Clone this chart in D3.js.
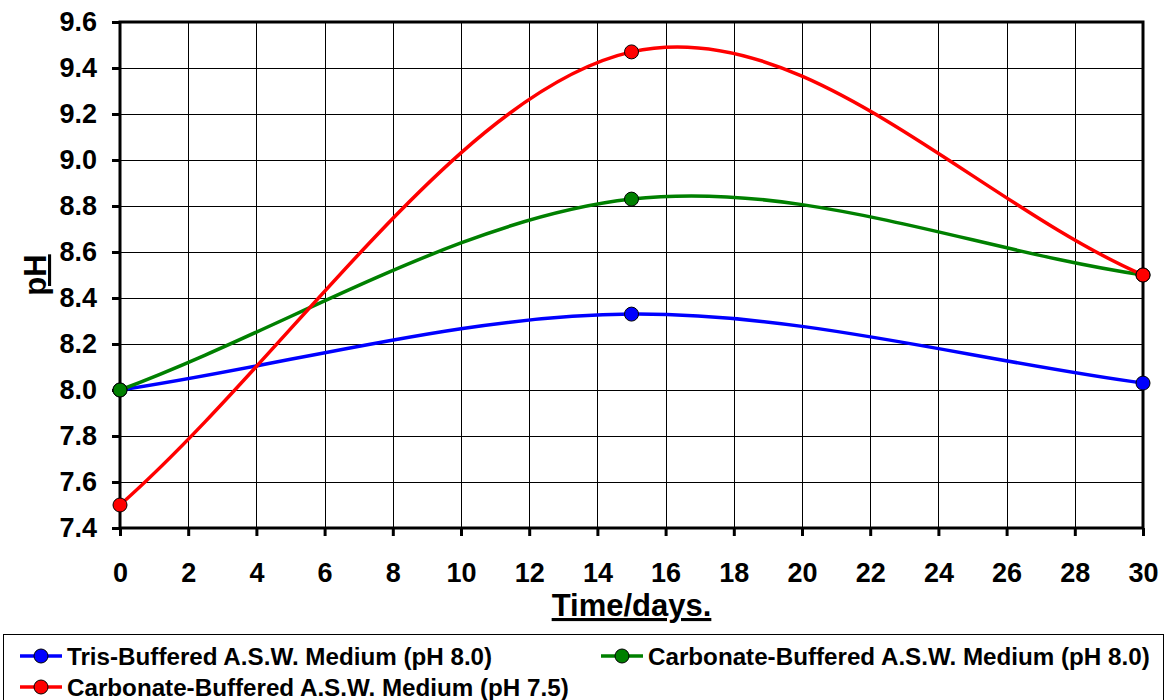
<!DOCTYPE html>
<html>
<head>
<meta charset="utf-8">
<script src="https://cdn.jsdelivr.net/npm/d3@7"></script>
<style>
  html, body { margin: 0; padding: 0; background: #fff; }
  text { font-family: "Liberation Sans", Arial, sans-serif; font-weight: bold; fill: #000; }
</style>
</head>
<body>
<svg id="chart" width="1168" height="700"></svg>
<script>
// Sampling days and measured pH for each medium
const days = [0, 15, 30];
const trisPH = [8.0, 8.33, 8.03];
const carb80PH = [8.0, 8.83, 8.5];
const carb75PH = [7.5, 9.47, 8.5];

const xTicks = d3.range(0, 31, 2);
const yTicks = [7.4, 7.6, 7.8, 8.0, 8.2, 8.4, 8.6, 8.8, 9.0, 9.2, 9.4, 9.6];

const seriesNames = [
  "Tris-Buffered A.S.W. Medium (pH 8.0)",
  "Carbonate-Buffered A.S.W. Medium (pH 8.0)",
  "Carbonate-Buffered A.S.W. Medium (pH 7.5)"
];
const seriesColors = ["#0000ff", "#008000", "#ff0000"];
const seriesValues = [trisPH, carb80PH, carb75PH];

const series = seriesNames.map((name, i) => ({
  name,
  color: seriesColors[i],
  points: days.map((d, j) => ({ x: d, y: seriesValues[i][j] }))
}));

// Smooth-line curve: interior tangents (P[i+1]-P[i-1])/6, end handles a third of the end chord
function curveSmooth(context) {
  let pts;
  return {
    areaStart() {}, areaEnd() {},
    lineStart() { pts = []; },
    point(px, py) { pts.push([+px, +py]); },
    lineEnd() {
      const n = pts.length;
      if (!n) return;
      context.moveTo(pts[0][0], pts[0][1]);
      for (let i = 0; i < n - 1; i++) {
        const a = pts[i], b = pts[i + 1];
        const c1 = i === 0
          ? [a[0] + (b[0] - a[0]) / 3, a[1] + (b[1] - a[1]) / 3]
          : [a[0] + (b[0] - pts[i - 1][0]) / 6, a[1] + (b[1] - pts[i - 1][1]) / 6];
        const c2 = i === n - 2
          ? [b[0] - (b[0] - a[0]) / 3, b[1] - (b[1] - a[1]) / 3]
          : [b[0] - (pts[i + 2][0] - a[0]) / 6, b[1] - (pts[i + 2][1] - a[1]) / 6];
        context.bezierCurveTo(c1[0], c1[1], c2[0], c2[1], b[0], b[1]);
      }
    }
  };
}

const svg = d3.select("#chart");
const margin = { left: 120, top: 22, right: 25, bottom: 172 };
const W = 1168, H = 700;
const x = d3.scaleLinear().domain([0, 30]).range([margin.left, W - margin.right]);
const y = d3.scaleLinear().domain([7.4, 9.6]).range([H - margin.bottom, margin.top]);
const FONT = "'Liberation Sans', Arial, sans-serif";

// Grid
const grid = svg.append("g");
grid.selectAll("line.v").data(xTicks).join("line")
  .attr("x1", d => Math.round(x(d)) + 0.5).attr("x2", d => Math.round(x(d)) + 0.5)
  .attr("y1", y(9.6)).attr("y2", y(7.4))
  .attr("stroke", "#000").attr("stroke-width", 1);
grid.selectAll("line.h").data(yTicks).join("line")
  .attr("y1", d => Math.round(y(d)) + 0.5).attr("y2", d => Math.round(y(d)) + 0.5)
  .attr("x1", x(0)).attr("x2", x(30))
  .attr("stroke", "#000").attr("stroke-width", 1);

// Axes
const xAxis = svg.append("g")
  .attr("transform", `translate(0,${y(7.4)})`)
  .call(d3.axisBottom(x).tickValues(xTicks).tickSize(8).tickPadding(27).tickFormat(d3.format("d")));
const yAxis = svg.append("g")
  .attr("transform", `translate(${x(0)},0)`)
  .call(d3.axisLeft(y).tickValues(yTicks).tickSize(8).tickPadding(15).tickFormat(d3.format(".1f")));
[xAxis, yAxis].forEach(g => {
  g.select(".domain").remove();
  g.selectAll(".tick line").attr("stroke", "#000").attr("stroke-width", 3);
  g.selectAll(".tick text")
    .style("font-size", "27px").style("font-family", FONT).style("font-weight", "bold");
});

// Plot frame
svg.append("rect")
  .attr("x", x(0)).attr("y", y(9.6))
  .attr("width", x(30) - x(0)).attr("height", y(7.4) - y(9.6))
  .attr("fill", "none").attr("stroke", "#000").attr("stroke-width", 3);

// Smoothed curves through the measured points
const line = d3.line().x(d => x(d.x)).y(d => y(d.y)).curve(curveSmooth);
const sg = svg.append("g");
series.forEach(s => {
  sg.append("path").datum(s.points)
    .attr("d", line).attr("fill", "none")
    .attr("stroke", s.color).attr("stroke-width", 3.5);
});
// Markers on top of all curves
series.forEach(s => {
  sg.selectAll(null).data(s.points).join("circle")
    .attr("cx", d => x(d.x)).attr("cy", d => y(d.y)).attr("r", 7)
    .attr("fill", s.color).attr("stroke", "#000").attr("stroke-width", 1);
});

// Axis titles
svg.append("text")
  .attr("x", (x(0) + x(30)) / 2).attr("y", 616)
  .attr("text-anchor", "middle").style("font-size", "31px")
  .attr("text-decoration", "underline")
  .text("Time/days.");
svg.append("text")
  .attr("transform", `translate(46,${(y(7.4) + y(9.6)) / 2}) rotate(-90)`)
  .attr("text-anchor", "middle").style("font-size", "31px")
  .attr("text-decoration", "underline")
  .text("pH");

// Legend
svg.append("rect")
  .attr("x", 3.5).attr("y", 634.5).attr("width", 1160).attr("height", 80)
  .attr("fill", "#fff").attr("stroke", "#000").attr("stroke-width", 1);
const legendPos = [
  { lx: 20, ty: 656 },
  { lx: 601, ty: 656 },
  { lx: 20, ty: 687 }
];
series.forEach((s, i) => {
  const p = legendPos[i];
  const g = svg.append("g");
  g.append("line").attr("x1", p.lx).attr("x2", p.lx + 42)
    .attr("y1", p.ty).attr("y2", p.ty)
    .attr("stroke", s.color).attr("stroke-width", 3.5);
  g.append("circle").attr("cx", p.lx + 21).attr("cy", p.ty).attr("r", 7)
    .attr("fill", s.color).attr("stroke", "#000").attr("stroke-width", 1);
  g.append("text").attr("x", p.lx + 47).attr("y", p.ty + 8.5)
    .style("font-size", "24.2px").text(s.name);
});
</script>
</body>
</html>
